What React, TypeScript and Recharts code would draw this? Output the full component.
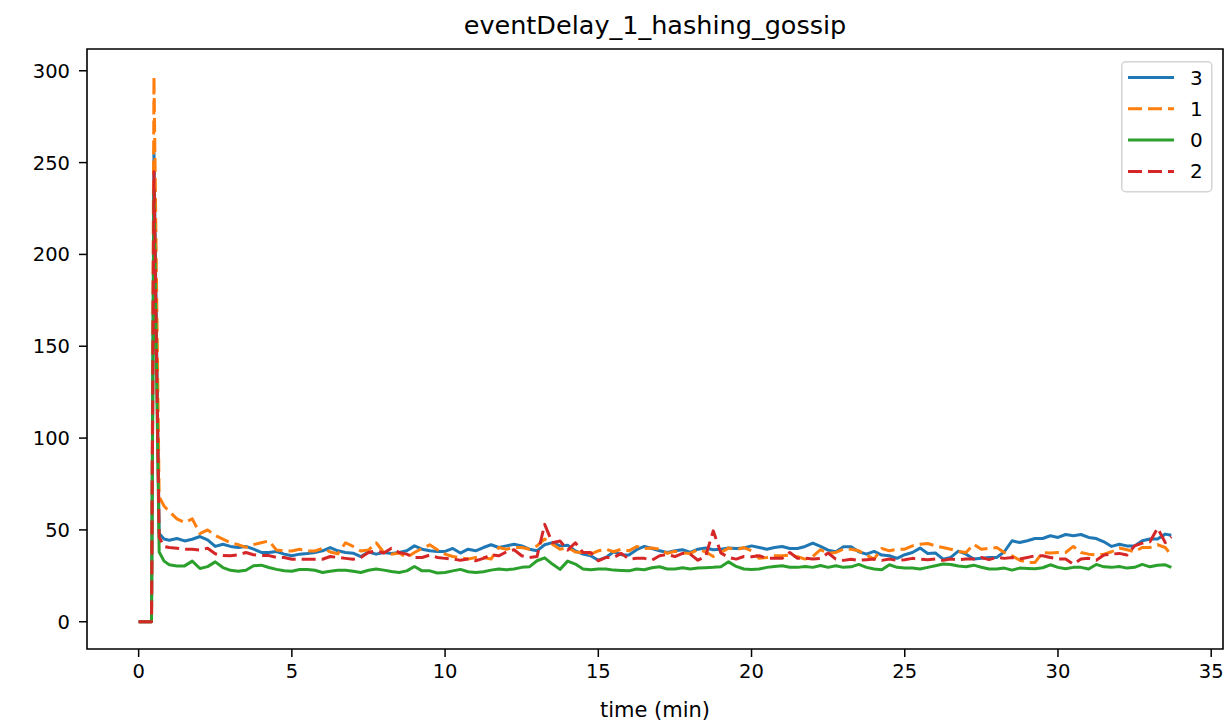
import React from 'react';
import { LineChart, Line, XAxis, YAxis, ReferenceArea, Legend } from 'recharts';

const times = [
  0, 0.25, 0.42, 0.5, 0.67, 0.83,
  1, 1.25, 1.5, 1.75, 2, 2.25, 2.5, 2.75, 3, 3.25, 3.5, 3.75, 4, 4.25, 4.5, 4.75, 5, 5.25, 5.5, 5.75, 6, 6.25, 6.5, 6.75, 7, 7.25, 7.5,
  7.75, 8, 8.25, 8.5, 8.75, 9, 9.25, 9.5, 9.75, 10, 10.25, 10.5, 10.75, 11, 11.25, 11.5, 11.75, 12, 12.25, 12.5, 12.75, 13, 13.25, 13.5, 13.75, 14, 14.25, 14.5, 14.75, 15, 15.25,
  15.5, 15.75, 16, 16.25, 16.5, 16.75, 17, 17.25, 17.5, 17.75, 18, 18.25, 18.5, 18.75, 19, 19.25, 19.5, 19.75, 20, 20.25, 20.5, 20.75, 21, 21.25, 21.5, 21.75, 22, 22.25, 22.5, 22.75, 23,
  23.25, 23.5, 23.75, 24, 24.25, 24.5, 24.75, 25, 25.25, 25.5, 25.75, 26, 26.25, 26.5, 26.75, 27, 27.25, 27.5, 27.75, 28, 28.25, 28.5, 28.75, 29, 29.25, 29.5, 29.75, 30, 30.25, 30.5, 30.75, 31,
  31.25, 31.5, 31.75, 32, 32.25, 32.5, 32.75, 33, 33.25, 33.5, 33.7,
];

const series3 = [
  0, 0, 0, 256, 48, 45,
  44.4, 45.3, 44, 44.9, 46.4, 44.6, 41, 42.2, 41, 40.4, 41, 39.5, 37.7, 37.7, 38.2, 36.8, 35.9, 36.8, 37.1, 37.7, 38.6, 40.4, 38.6, 37.7, 37.3, 35.5, 38,
  36.8, 37.7, 37.2, 37.7, 38.6, 41.3, 39.5, 38.6, 38.3, 38.3, 39.9, 37.4, 39.5, 38.6, 40.4, 41.9, 40.4, 41.3, 42.2, 41.3, 39.5, 38.6, 41.9, 43.1, 41.3, 41.7, 38.6, 36.8, 35.9, 33.5, 35,
  38.1, 36.5, 36.3, 39.2, 41, 39.9, 38.6, 37.7, 38.6, 39.2, 37.7, 39.5, 40.1, 39.2, 39.5, 40.1, 39.9, 40.2, 41.3, 40.4, 39.5, 40.4, 41, 39.9, 39.9, 41, 42.8, 41, 39, 38.1, 40.8,
  40.8, 38.1, 36.8, 38.3, 36.3, 35.9, 34.5, 36.5, 37.7, 40.1, 37.2, 37.4, 34.1, 35, 38.4, 36.8, 34.1, 34.6, 35, 35, 38.1, 44.1, 43.1, 44.1, 45.3, 45.3, 46.8, 45.9, 47.5, 46.8, 47.5, 45.9,
  45.3, 43.5, 41, 42.2, 41.3, 41.3, 44.1, 45, 45, 47.7, 47.1,
];

const series1 = [
  0, 0, 0, 297, 68, 63,
  60, 56, 54, 56, 48, 50, 47, 45, 43, 42, 40.5, 42, 43, 44, 39, 38.5, 38.5, 39.5, 38.5, 38.5, 40, 38, 37, 43, 41, 38.5, 39,
  43, 37.7, 36.8, 37.4, 35, 37.7, 39.9, 41.9, 39.2, 36.8, 35.5, 34.8, 34.1, 35, 35, 34.1, 40.4, 39.5, 40.4, 40.4, 39.5, 41.3, 45, 42.2, 39.5, 40.4, 38, 37.7, 36.8, 38.6, 39.5,
  38.1, 39.5, 38.6, 41, 39.9, 40.2, 39.5, 37.2, 38.4, 37.4, 37.2, 39.2, 38.1, 35.5, 37.7, 40.1, 39.2, 40.4, 38.6, 34.5, 35, 35.9, 35.9, 36.3, 35.4, 34.1, 35.5, 39.2, 37.2, 37.7, 39.5,
  39.5, 38.6, 36.3, 34.1, 39.9, 38.6, 39.5, 39.5, 41.3, 42.2, 42.6, 41.3, 40.4, 39.5, 38.3, 37.7, 42.2, 39.5, 39.9, 40.4, 37.7, 35.9, 33.5, 32.3, 32.3, 37.7, 37.4, 37.7, 37.7, 41, 37.7, 36.8,
  36.3, 36.8, 38.1, 40.1, 39.2, 38.1, 40.4, 40.4, 41.9, 40.4, 36.3,
];

const series0 = [
  0, 0, 0, 235, 38, 33,
  31, 30.4, 30.4, 33, 29, 30, 32.6, 29.5, 28, 27.5, 28, 30.5, 30.8, 29.5, 28.5, 27.8, 27.5, 28.4, 28.5, 28, 26.8, 27.5, 28, 28, 27.5, 26.8, 28,
  28.7, 28.1, 27.4, 26.8, 27.7, 30.1, 27.7, 27.7, 26.5, 26.8, 27.7, 28.5, 27.2, 26.8, 27.2, 28.1, 28.7, 28.3, 28.7, 29.6, 29.9, 33.2, 34.8, 31.4, 28.5, 33, 31.4, 28.7, 28.3, 28.7, 28.7,
  28.1, 27.9, 27.7, 28.7, 28.3, 29.4, 29.9, 28.7, 28.7, 29.4, 28.7, 29.2, 29.4, 29.6, 29.9, 32.6, 30.1, 28.7, 28.5, 28.7, 29.6, 30.1, 30.5, 29.7, 29.6, 30.1, 29.6, 30.6, 29.6, 30.5, 29.6,
  29.9, 31.2, 29.6, 28.7, 28.3, 31, 29.6, 29.2, 29.2, 28.7, 29.6, 30.5, 31.4, 31.2, 30.3, 29.9, 30.8, 29.7, 28.7, 28.7, 29.2, 28.1, 29.2, 29, 28.8, 29.4, 31, 29.6, 28.8, 29.6, 29.6, 28.7,
  31.2, 29.9, 29.6, 30.1, 29.2, 29.6, 31.2, 29.9, 30.8, 31, 29.6,
];

const series2 = [
  0, 0, 0, 245, 46, 41,
  40.4, 40, 39.5, 39.5, 39, 40, 37, 36, 35.9, 36.5, 37.7, 36.5, 36, 36, 35, 35, 34, 34, 34, 34, 34, 35.5, 35, 34.5, 34, 35, 37.7,
  38.6, 37.4, 40, 37.7, 36.8, 35, 35, 36.3, 35, 34.5, 34.1, 33.5, 34.1, 33.2, 34.5, 36.5, 35.9, 38, 39.2, 35.9, 35, 35.5, 53, 43, 44, 39, 43, 37.7, 37.7, 33.2, 35,
  35, 37.2, 34.1, 34.5, 34.5, 33.5, 35.9, 36.6, 35.5, 37.2, 36.8, 33.5, 35.5, 49.5, 37.4, 35, 34.1, 35.5, 35.4, 35.9, 34.5, 34.6, 34.5, 37.7, 34.5, 34.6, 34.1, 34.5, 37.4, 34.1, 33.4,
  34, 33.4, 33.8, 34.1, 33.4, 34.1, 33.4, 33.8, 34.5, 34.1, 33.8, 34.1, 33.4, 34.1, 33.8, 34.1, 34.1, 35, 33.8, 35, 34.5, 35, 34.1, 35, 35.9, 35.9, 35, 34.1, 34.1, 31.4, 34.1, 34.5,
  33.5, 36.3, 36.8, 37.2, 36.3, 41.3, 42.8, 43.5, 51, 43.1, 46.2,
];

const seriesNames = ['3', '1', '0', '2'];
const xTicks = [0, 5, 10, 15, 20, 25, 30, 35];
const yTicks = [0, 50, 100, 150, 200, 250, 300];
const xDomain = [-1.685, 35.385];
const yDomain = [-14.85, 311.85];
const titleText = 'eventDelay_1_hashing_gossip';
const xLabelText = 'time (min)';

const data = times.map((t, i) => ({
  t,
  s3: series3[i],
  s1: series1[i],
  s0: series0[i],
  s2: series2[i],
}));

const FONT = '"DejaVu Sans", sans-serif';

const styles = [
  { key: 's3', color: '#1f77b4', dash: undefined as string | undefined },
  { key: 's1', color: '#ff7f0e', dash: '14 6' },
  { key: 's0', color: '#2ca02c', dash: undefined as string | undefined },
  { key: 's2', color: '#d62728', dash: '14 6' },
];

const renderLegend = () => (
  <svg width={92} height={132} style={{ display: 'block' }}>
    <rect x={0.75} y={0.75} width={90} height={130} rx={4} ry={4} fill="#ffffff" fillOpacity={0.8} stroke="#d4d4d4" strokeWidth={1.5} />
    {styles.map((s, i) => {
      const y = 16.5 + i * 31.3;
      return (
        <g key={s.key}>
          <line x1={7} x2={53} y1={y} y2={y} stroke={s.color} strokeWidth={3} strokeDasharray={s.dash ? '14 6' : undefined} />
          <text x={69} y={y} dominantBaseline="central" fontFamily={FONT} fontSize={20} fill="#000">
            {seriesNames[i]}
          </text>
        </g>
      );
    })}
  </svg>
);

export default function App() {
  return (
    <div style={{ position: 'absolute', left: 0, top: 0, width: 1227, height: 721, background: '#fff' }}>
      <div
        style={{
          position: 'absolute',
          left: 0,
          width: 1310,
          top: 9,
          textAlign: 'center',
          fontFamily: FONT,
          fontSize: 25.5,
          color: '#000',
          lineHeight: '32px',
        }}
      >
        {titleText}
      </div>
      <LineChart
        width={1227}
        height={721}
        data={data}
        margin={{ top: 49, right: 4, bottom: 0, left: 0 }}
        style={{ fontFamily: FONT }}
      >
        <XAxis
          dataKey="t"
          type="number"
          domain={xDomain}
          ticks={xTicks}
          allowDataOverflow
          height={72}
          axisLine={false}
          tickLine={{ stroke: '#000', strokeWidth: 1.5 }}
          tickSize={8}
          tickMargin={7}
          tick={{ fill: '#000', fontSize: 19.5, fontFamily: FONT }}
          label={{ value: xLabelText, position: 'insideBottom', offset: 4, fill: '#000', fontSize: 21, fontFamily: FONT }}
        />
        <YAxis
          type="number"
          domain={yDomain}
          ticks={yTicks}
          allowDataOverflow
          width={87}
          axisLine={false}
          tickLine={{ stroke: '#000', strokeWidth: 1.5 }}
          tickSize={8}
          tickMargin={9}
          tick={{ fill: '#000', fontSize: 19.5, fontFamily: FONT }}
        />
        {styles.map((s, i) => (
          <Line
            key={s.key}
            type="linear"
            dataKey={s.key}
            name={seriesNames[i]}
            stroke={s.color}
            strokeWidth={3}
            strokeDasharray={s.dash}
            strokeLinejoin="round"
            dot={false}
            activeDot={false}
            isAnimationActive={false}
          />
        ))}
        <ReferenceArea
          x1={xDomain[0]}
          x2={xDomain[1]}
          y1={yDomain[0]}
          y2={yDomain[1]}
          fill="none"
          fillOpacity={0}
          stroke="#000"
          strokeWidth={1.6}
          ifOverflow="visible"
        />
        <Legend
          layout="horizontal"
          verticalAlign="middle"
          align="center"
          content={renderLegend}
          wrapperStyle={{ left: 1121, top: 61, width: 92, height: 132 }}
        />
      </LineChart>
    </div>
  );
}
